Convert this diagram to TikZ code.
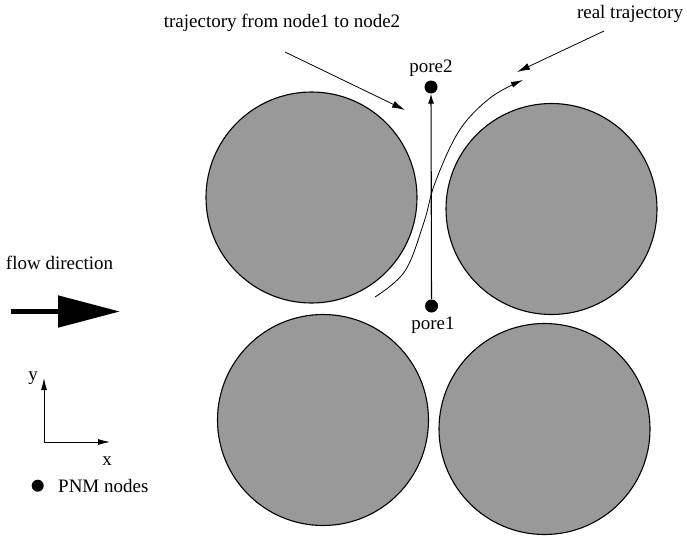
\documentclass[tikz,border=0pt]{standalone}
\usepackage{fontspec}
\setmainfont{Liberation Serif}
\usetikzlibrary{arrows.meta}
\definecolor{grain}{HTML}{999999}
\begin{document}
\begin{tikzpicture}[x=1pt,y=-1pt,
  grainnode/.style={circle,draw=black,line width=1.1pt,fill=grain,inner sep=0pt,minimum size=211pt},
  pore/.style={circle,fill=black,inner sep=0pt,minimum size=13pt},
  lbl/.style={font=\fontsize{19}{23}\selectfont,inner sep=0pt},
  thinarrow/.style={line width=0.8pt,-{Latex[length=13pt,width=7pt]}},
  every node/.append style={}]
\useasboundingbox (0,0) rectangle (687,538);
% grains
\node[grainnode] (g1) at (311.5,197.5) {};
\node[grainnode] (g2) at (551.5,209) {};
\node[grainnode] (g3) at (323,420) {};
\node[grainnode] (g4) at (544.5,429) {};
% pores
\node[pore] (p1) at (431.5,306) {};
\node[pore] (p2) at (431,87) {};
\node[lbl,anchor=base] (p1l) at (433,329) {pore1};
\node[lbl,anchor=base] (p2l) at (431,72) {pore2};
\draw[line width=1.1pt,-{Latex[length=10pt,width=6pt]}] (p1) -- (p2);
% real trajectory curve
\coordinate (ts) at (375,297);
\coordinate (te) at (523,80);
\draw[line width=0.8pt,-{Latex[length=12pt,width=6pt]}] plot[smooth,tension=0.6] coordinates {(375,297) (405,271) (424,222) (435,183) (459,131) (490,98) (523,80)};
% annotations
\node[lbl] (t1) at (282,23) {trajectory from node1 to node2};
\coordinate (a1s) at (285,52);
\coordinate (a1e) at (405,110);
\draw[thinarrow] (a1s) -- (a1e);
\node[lbl] (t2) at (630,14) {real trajectory};
\coordinate (a2s) at (604,31);
\coordinate (a2e) at (517,72);
\draw[thinarrow] (a2s) -- (a2e);
% flow direction
\node[lbl] (fd) at (59.5,263) {flow direction};
\coordinate (fs) at (11,311.5);
\coordinate (fe) at (120,311.5);
\draw[line width=5pt,-{Triangle[length=62pt,width=31pt]}] (fs) -- (fe);
% axes
\coordinate (o) at (44,442);
\coordinate (ya) at (44,378);
\coordinate (xa) at (110,442);
\draw[line width=0.8pt,-{Latex[length=12pt,width=6pt]}] (o) -- (ya);
\draw[line width=0.8pt,-{Latex[length=12pt,width=6pt]}] (o) -- (xa);
\node[lbl] (yl) at (33,378) {y};
\node[lbl] (xl) at (107,461) {x};
% legend
\node[pore,minimum size=12pt] (ld) at (37.7,485.7) {};
\node[lbl,anchor=west] (lt) at (58,486) {PNM nodes};
\end{tikzpicture}
\end{document}
